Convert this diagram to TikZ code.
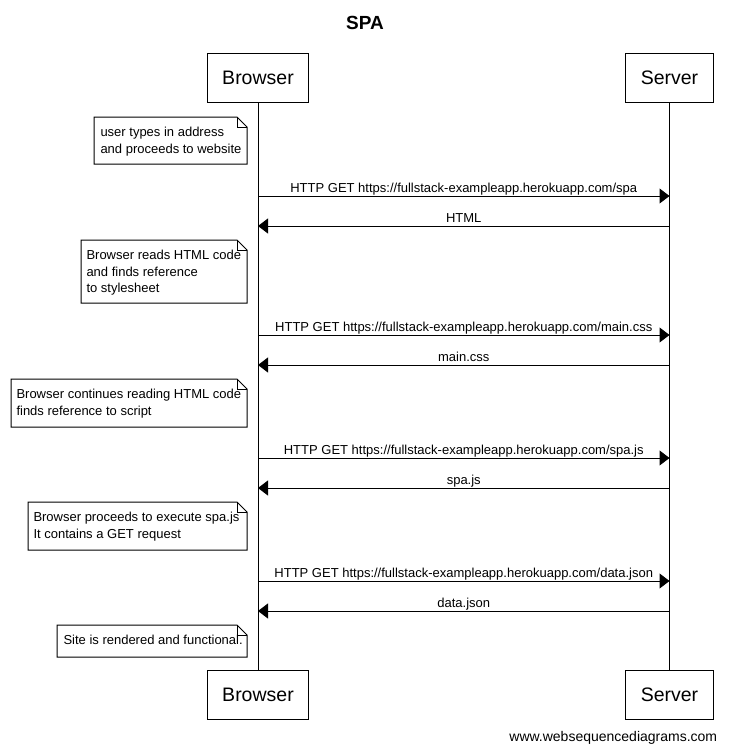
\documentclass[tikz,border=0pt]{standalone}
\usepackage{fontspec}
\setmainfont{Liberation Sans}
\usetikzlibrary{arrows.meta}

% folded note: corners (x1,y1) and (x2,y2)
\newcommand{\foldnote}[4]{%
  \draw[fill=white] (#1,#2) -- (#3-10,#2) -- (#3,#2+10) -- (#3,#4) -- (#1,#4) -- cycle;
  \draw (#3-10,#2) -- (#3-10,#2+10) -- (#3,#2+10);
}

\begin{document}
\begin{tikzpicture}[x=1pt, y=-1pt, line width=1pt,
    actor/.style = {draw, minimum height=49pt, inner xsep=15pt, font=\fontsize{19.5}{22}\selectfont},
    msg/.style = {-{Triangle[length=10pt, width=15pt]}},
    lbl/.style = {font=\fontsize{13}{15}\selectfont, midway, anchor=base, yshift=4pt},
    notetext/.style = {anchor=north west, align=left, inner sep=0pt, font=\fontsize{13}{16.5}\selectfont}]
    \useasboundingbox (0,0) rectangle (729,753);

    \node[font=\fontsize{19}{22}\selectfont\bfseries] (title) at (365,23) {SPA};

    \node[actor] (browser) at (258,77.5) {Browser};
    \node[actor] (server) at (669.5,77.5) {Server};
    \node[actor] (browserB) at (258,694.5) {Browser};
    \node[actor] (serverB) at (669.5,694.5) {Server};

    \draw (browser.south) -- (browserB.north);
    \draw (server.south) -- (serverB.north);

    % notes
    \foldnote{94}{117}{247}{164}
    \node[notetext] (n1) at (100,127) {user types in address\\and proceeds to website};
    \foldnote{81}{240}{247}{303}
    \node[notetext] (n2) at (86,250) {Browser reads HTML code\\and finds reference\\to stylesheet};
    \foldnote{11}{379}{247}{427}
    \node[notetext] (n3) at (16,389) {Browser continues reading HTML code\\finds reference to script};
    \foldnote{28}{502}{247}{550}
    \node[notetext] (n4) at (33,512) {Browser proceeds to execute spa.js\\It contains a GET request};
    \foldnote{57}{625}{247}{657}
    \node[notetext] (n5) at (63,635) {Site is rendered and functional.};

    % messages
    \draw[msg] (browser.south |- 0,196) -- node[lbl] {HTTP GET https://fullstack-exampleapp.herokuapp.com/spa} (server.south |- 0,196);
    \draw[msg] (server.south |- 0,226) -- node[lbl] {HTML} (browser.south |- 0,226);
    \draw[msg] (browser.south |- 0,335) -- node[lbl] {HTTP GET https://fullstack-exampleapp.herokuapp.com/main.css} (server.south |- 0,335);
    \draw[msg] (server.south |- 0,365) -- node[lbl] {main.css} (browser.south |- 0,365);
    \draw[msg] (browser.south |- 0,458) -- node[lbl] {HTTP GET https://fullstack-exampleapp.herokuapp.com/spa.js} (server.south |- 0,458);
    \draw[msg] (server.south |- 0,488) -- node[lbl] {spa.js} (browser.south |- 0,488);
    \draw[msg] (browser.south |- 0,581) -- node[lbl] {HTTP GET https://fullstack-exampleapp.herokuapp.com/data.json} (server.south |- 0,581);
    \draw[msg] (server.south |- 0,611) -- node[lbl] {data.json} (browser.south |- 0,611);

    \node[anchor=east, font=\fontsize{14}{16}\selectfont] (footer) at (721,738) {www.websequencediagrams.com};
\end{tikzpicture}
\end{document}
